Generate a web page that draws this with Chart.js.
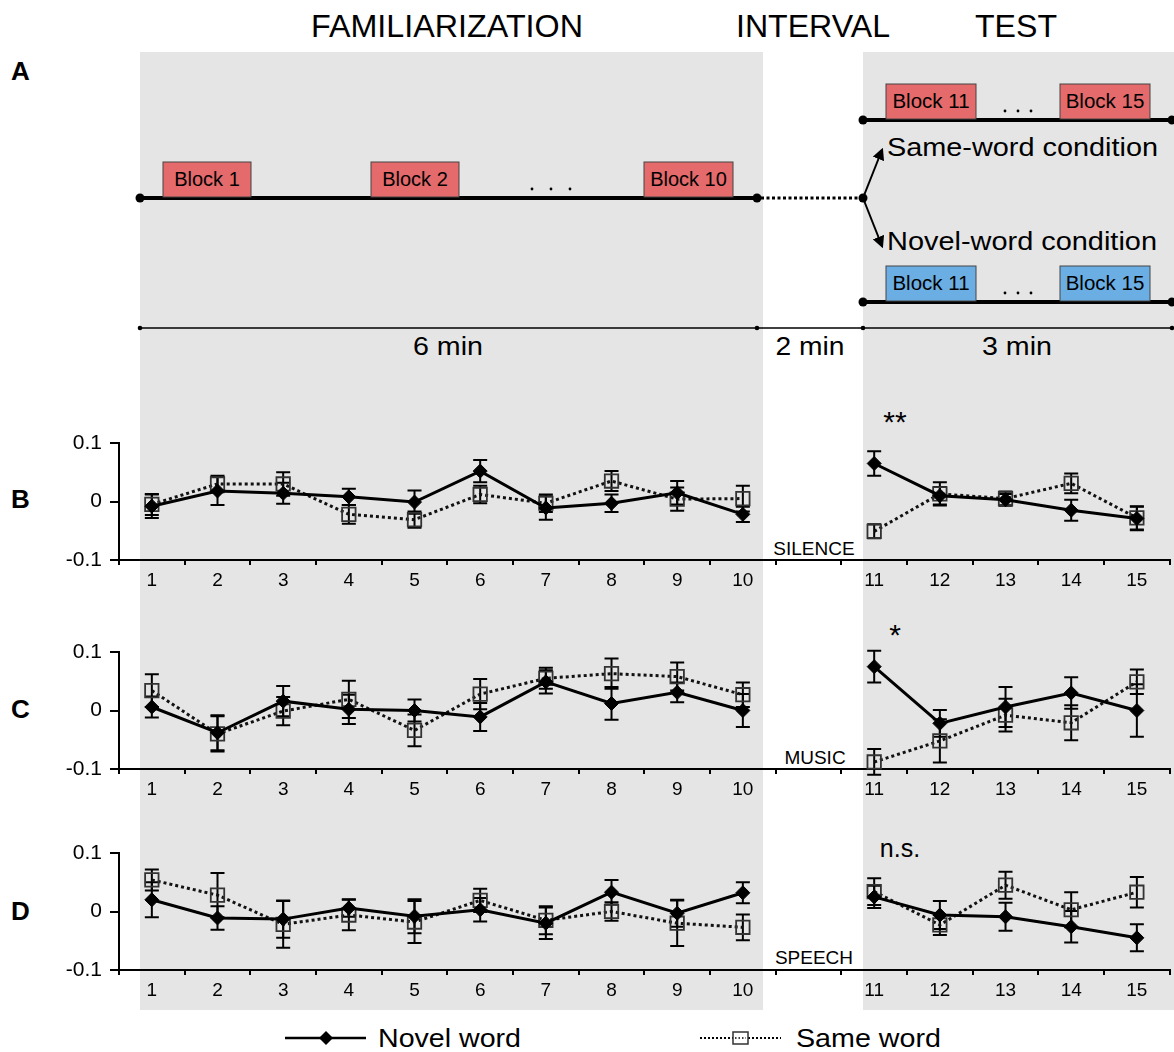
<!DOCTYPE html>
<html>
<head>
<meta charset="utf-8">
<script src="https://cdn.jsdelivr.net/npm/chart.js@4.4.1/dist/chart.umd.min.js"></script>
<style>
  html, body { margin: 0; padding: 0; overflow: hidden; background: #fff; }
  #page { position: relative; width: 1174px; height: 1052px; overflow: hidden; font-family: 'Liberation Sans', Arial, sans-serif; }
  #bg { position: absolute; left: 0; top: 0; z-index: 0; }
  canvas { position: absolute; left: 0; z-index: 1; }
</style>
</head>
<body>
<div id="page">
<svg id="bg" width="1174" height="1052" font-family="'Liberation Sans', Arial, sans-serif">
  <defs>
    <marker id="ah" viewBox="0 0 10 10" refX="8" refY="5" markerWidth="6" markerHeight="6" orient="auto">
      <path d="M0,0 L10,5 L0,10 z" fill="#000"/>
    </marker>
  </defs>
  <!-- shaded phases -->
  <rect x="140" y="52" width="623" height="958" fill="#e5e5e5"/>
  <rect x="863" y="52" width="311" height="958" fill="#e5e5e5"/>

  <!-- headings -->
  <text x="447" y="37" font-size="31" text-anchor="middle" textLength="272" lengthAdjust="spacingAndGlyphs">FAMILIARIZATION</text>
  <text x="813" y="37" font-size="31" text-anchor="middle" textLength="154" lengthAdjust="spacingAndGlyphs">INTERVAL</text>
  <text x="1016" y="37" font-size="31" text-anchor="middle" textLength="82" lengthAdjust="spacingAndGlyphs">TEST</text>

  <!-- panel letters -->
  <text x="11" y="80" font-size="26" font-weight="bold">A</text>
  <text x="11" y="508" font-size="26" font-weight="bold">B</text>
  <text x="11" y="718" font-size="26" font-weight="bold">C</text>
  <text x="11" y="920" font-size="26" font-weight="bold">D</text>

  <!-- panel A: familiarization timeline -->
  <line x1="140" y1="198" x2="757" y2="198" stroke="#000" stroke-width="4"/>
  <line x1="761" y1="198" x2="860" y2="198" stroke="#000" stroke-width="3" stroke-dasharray="3 2.5"/>
  <circle cx="140" cy="198" r="4.5"/>
  <circle cx="757" cy="198" r="4.5"/>
  <circle cx="863" cy="198" r="4.5"/>
  <g stroke="#444" stroke-width="1" fill="#e46a6b">
    <rect x="163" y="162" width="88" height="35"/>
    <rect x="371" y="162" width="88" height="35"/>
    <rect x="644" y="162" width="89" height="35"/>
  </g>
  <g font-size="20" text-anchor="middle">
    <text x="207" y="186">Block 1</text>
    <text x="415" y="186">Block 2</text>
    <text x="688.5" y="186">Block 10</text>
  </g>
  <g fill="#000">
    <circle cx="532" cy="189" r="1.4"/><circle cx="551" cy="189" r="1.4"/><circle cx="570" cy="189" r="1.4"/>
  </g>

  <!-- panel A: test timelines -->
  <line x1="863" y1="198" x2="882" y2="150" stroke="#000" stroke-width="2" marker-end="url(#ah)"/>
  <line x1="863" y1="198" x2="882" y2="246" stroke="#000" stroke-width="2" marker-end="url(#ah)"/>
  <line x1="863" y1="120" x2="1174" y2="120" stroke="#000" stroke-width="4"/>
  <line x1="863" y1="302" x2="1174" y2="302" stroke="#000" stroke-width="4"/>
  <circle cx="863" cy="120" r="4.5"/><circle cx="1172" cy="120" r="4.5"/>
  <circle cx="863" cy="302" r="4.5"/><circle cx="1172" cy="302" r="4.5"/>
  <g stroke="#444" stroke-width="1">
    <rect x="886" y="84" width="90" height="35" fill="#e46a6b"/>
    <rect x="1060" y="84" width="90" height="35" fill="#e46a6b"/>
    <rect x="886" y="266" width="90" height="35" fill="#6aaee4"/>
    <rect x="1060" y="266" width="90" height="35" fill="#6aaee4"/>
  </g>
  <g font-size="20.5" text-anchor="middle">
    <text x="931" y="108">Block 11</text>
    <text x="1105" y="108">Block 15</text>
    <text x="931" y="290">Block 11</text>
    <text x="1105" y="290">Block 15</text>
  </g>
  <g fill="#000">
    <circle cx="1005" cy="111" r="1.4"/><circle cx="1018" cy="111" r="1.4"/><circle cx="1031" cy="111" r="1.4"/>
    <circle cx="1005" cy="293" r="1.4"/><circle cx="1018" cy="293" r="1.4"/><circle cx="1031" cy="293" r="1.4"/>
  </g>
  <text x="887" y="156" font-size="26.5" textLength="271" lengthAdjust="spacingAndGlyphs">Same-word condition</text>
  <text x="887" y="250" font-size="26.5" textLength="270" lengthAdjust="spacingAndGlyphs">Novel-word condition</text>

  <!-- panel A: durations -->
  <line x1="140" y1="328" x2="1174" y2="328" stroke="#000" stroke-width="1.5"/>
  <circle cx="140" cy="328" r="2.3"/><circle cx="757" cy="328" r="2.3"/>
  <circle cx="863" cy="328" r="2.3"/><circle cx="1172" cy="328" r="2.3"/>
  <text x="448" y="355" font-size="25" text-anchor="middle" textLength="70" lengthAdjust="spacingAndGlyphs">6 min</text>
  <text x="810" y="355" font-size="25" text-anchor="middle" textLength="69" lengthAdjust="spacingAndGlyphs">2 min</text>
  <text x="1017" y="355" font-size="25" text-anchor="middle" textLength="70" lengthAdjust="spacingAndGlyphs">3 min</text>

  <!-- significance marks and condition names -->
  <text x="895" y="432" font-size="30" text-anchor="middle">**</text>
  <text x="895" y="645" font-size="30" text-anchor="middle">*</text>
  <text x="900" y="857" font-size="25" text-anchor="middle">n.s.</text>
  <text x="814" y="555" font-size="19" text-anchor="middle">SILENCE</text>
  <text x="815" y="764" font-size="19" text-anchor="middle">MUSIC</text>
  <text x="814" y="964" font-size="19" text-anchor="middle">SPEECH</text>

  <!-- legend -->
  <line x1="285" y1="1038" x2="366" y2="1038" stroke="#000" stroke-width="2.5"/>
  <path d="M319,1038 L326,1031 L333,1038 L326,1045 z" fill="#000"/>
  <text x="378" y="1047" font-size="26" textLength="143" lengthAdjust="spacingAndGlyphs">Novel word</text>
  <line x1="700" y1="1038" x2="781" y2="1038" stroke="#000" stroke-width="2" stroke-dasharray="2 2"/>
  <rect x="733" y="1032" width="15" height="12" fill="#fff" stroke="#333" stroke-width="1.5"/>
  <line x1="735" y1="1038" x2="746" y2="1038" stroke="#000" stroke-width="1.5" stroke-dasharray="1.5 2"/>
  <text x="796" y="1047" font-size="26" textLength="145" lengthAdjust="spacingAndGlyphs">Same word</text>
</svg>

<canvas id="silenceChart" width="1181" height="187" style="top:413px"></canvas>
<canvas id="musicChart" width="1181" height="187" style="top:622px"></canvas>
<canvas id="speechChart" width="1181" height="187" style="top:823px"></canvas>
</div>

<script>
// Blocks 1-10 familiarization, empty slot = 2 min interval, blocks 11-15 test
const blocks = ['1', '2', '3', '4', '5', '6', '7', '8', '9', '10', '', '11', '12', '13', '14', '15']
const yTicks = [-0.1, 0, 0.1]

// SILENCE
const silenceNovel = [-0.008, 0.018, 0.014, 0.008, -0.001, 0.052, -0.011, -0.003, 0.015, -0.022, 0.065, 0.010, 0.003, -0.015, -0.029]
const silenceNovelErr = [0.020, 0.024, 0.018, 0.014, 0.020, 0.019, 0.020, 0.015, 0.020, 0.013, 0.021, 0.015, 0.010, 0.018, 0.020]
const silenceSame = [-0.005, 0.030, 0.030, -0.022, -0.031, 0.012, -0.003, 0.035, 0.004, 0.005, -0.051, 0.013, 0.005, 0.031, -0.028]
const silenceSameErr = [0.018, 0.014, 0.020, 0.016, 0.014, 0.015, 0.015, 0.017, 0.020, 0.022, 0.012, 0.020, 0.012, 0.017, 0.020]

// MUSIC
const musicNovel = [0.006, -0.038, 0.016, 0.002, 0.000, -0.011, 0.049, 0.012, 0.031, 0.000, 0.075, -0.022, 0.006, 0.030, 0.000]
const musicNovelErr = [0.018, 0.030, 0.026, 0.025, 0.019, 0.024, 0.020, 0.028, 0.017, 0.028, 0.027, 0.023, 0.034, 0.027, 0.045]
const musicSame = [0.034, -0.040, -0.001, 0.019, -0.034, 0.028, 0.055, 0.063, 0.058, 0.027, -0.088, -0.052, -0.008, -0.021, 0.049]
const musicSameErr = [0.028, 0.030, 0.024, 0.032, 0.027, 0.026, 0.018, 0.026, 0.024, 0.021, 0.022, 0.037, 0.028, 0.030, 0.021]

// SPEECH
const speechNovel = [0.020, -0.011, -0.013, 0.006, -0.008, 0.003, -0.020, 0.033, -0.003, 0.032, 0.025, -0.006, -0.009, -0.026, -0.045]
const speechNovelErr = [0.030, 0.020, 0.032, 0.015, 0.029, 0.020, 0.027, 0.021, 0.023, 0.018, 0.019, 0.024, 0.024, 0.027, 0.023]
const speechSame = [0.054, 0.028, -0.022, -0.006, -0.018, 0.019, -0.015, 0.000, -0.020, -0.027, 0.034, -0.023, 0.045, 0.003, 0.033]
const speechSameErr = [0.018, 0.038, 0.040, 0.026, 0.036, 0.020, 0.024, 0.016, 0.039, 0.022, 0.023, 0.017, 0.023, 0.030, 0.026]

const FONT = "'Liberation Sans', Arial, sans-serif"

// put an empty value in the interval slot so the line breaks there
function withGap(arr) {
    return arr.slice(0, 10).concat([null], arr.slice(10))
}

// vertical error bars, drawn from each point's own scale position
const errorBars = {
    id: 'errorBars',
    beforeDatasetsDraw(chart) {
        const ctx = chart.ctx
        const y = chart.scales.y
        chart.data.datasets.forEach((ds, i) => {
            const meta = chart.getDatasetMeta(i)
            ctx.save()
            ctx.strokeStyle = '#000'
            ctx.lineWidth = 2
            meta.data.forEach((pt, j) => {
                const v = ds.data[j]
                const e = ds.errors[j]
                if (v == null) return
                const top = y.getPixelForValue(v + e)
                const bot = y.getPixelForValue(v - e)
                ctx.beginPath()
                ctx.moveTo(pt.x, top); ctx.lineTo(pt.x, bot)
                ctx.moveTo(pt.x - 7, top); ctx.lineTo(pt.x + 7, top)
                ctx.moveTo(pt.x - 7, bot); ctx.lineTo(pt.x + 7, bot)
                ctx.stroke()
            })
            ctx.restore()
        })
    }
}

function panel(id, novel, novelErr, same, sameErr) {
    return new Chart(document.getElementById(id), {
        type: 'line',
        data: {
            labels: blocks,
            datasets: [{
                label: 'Novel word',
                data: withGap(novel),
                errors: withGap(novelErr),
                borderColor: '#000',
                borderWidth: 3,
                pointStyle: 'rectRot',
                pointRadius: 7,
                pointBackgroundColor: '#000',
                pointBorderColor: '#000',
                pointBorderWidth: 1,
                tension: 0,
                spanGaps: false,
                clip: false
            }, {
                label: 'Same word',
                data: withGap(same),
                errors: withGap(sameErr),
                borderColor: '#111',
                borderWidth: 3,
                borderDash: [3, 3],
                pointStyle: 'rect',
                pointRadius: 9.5,
                pointBackgroundColor: 'rgba(0,0,0,0)',
                pointBorderColor: '#333',
                pointBorderWidth: 1.8,
                tension: 0,
                spanGaps: false,
                clip: false
            }]
        },
        plugins: [errorBars],
        options: {
            responsive: false,
            animation: false,
            layout: {padding: {top: 30, right: 0, bottom: 0, left: 0}},
            plugins: {
                legend: {display: false},
                tooltip: {enabled: false}
            },
            scales: {
                x: {
                    type: 'category',
                    offset: true,
                    grid: {offset: true, drawOnChartArea: false, drawTicks: true, tickLength: 5, color: '#000', lineWidth: 2},
                    border: {color: '#000', width: 2},
                    ticks: {color: '#000', font: {family: FONT, size: 19}, padding: 4, maxRotation: 0, autoSkip: false},
                    afterFit(s) { s.height = 40 }
                },
                y: {
                    min: -0.1,
                    max: 0.1,
                    afterBuildTicks(s) { s.ticks = yTicks.map(v => ({value: v})) },
                    grid: {drawOnChartArea: false, drawTicks: true, tickLength: 9, color: '#000', lineWidth: 2},
                    border: {color: '#000', width: 2},
                    ticks: {
                        color: '#000',
                        font: {family: FONT, size: 21},
                        padding: 8,
                        callback: v => (v === 0 ? '0' : v.toFixed(1))
                    },
                    afterFit(s) { s.width = 119 }
                }
            }
        }
    })
}

panel('silenceChart', silenceNovel, silenceNovelErr, silenceSame, silenceSameErr)
panel('musicChart', musicNovel, musicNovelErr, musicSame, musicSameErr)
panel('speechChart', speechNovel, speechNovelErr, speechSame, speechSameErr)
</script>
</body>
</html>
